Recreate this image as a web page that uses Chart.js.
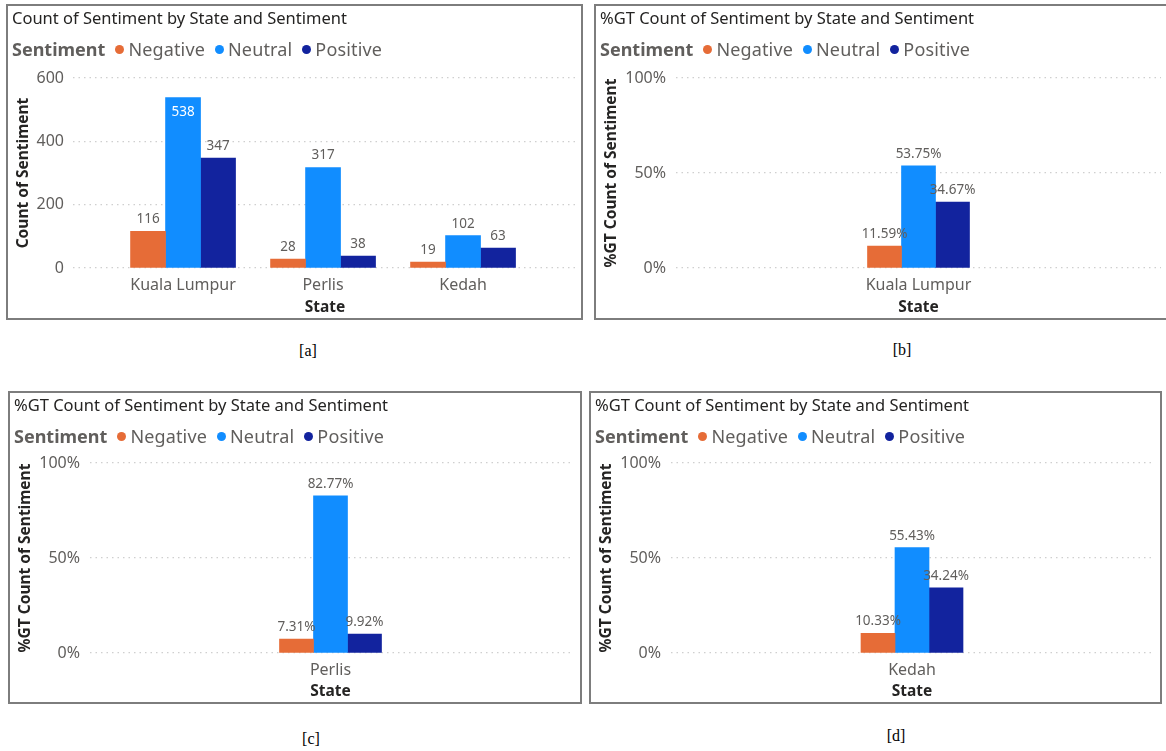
<!DOCTYPE html>
<html>
<head>
<meta charset="utf-8">
<title>Sentiment by State</title>
<script src="https://cdn.jsdelivr.net/npm/chart.js@4.4.0/dist/chart.umd.min.js"></script>
<style>
  body { margin: 0; width: 1166px; height: 751px; background: #fff; position: relative; overflow: hidden; }
  .panel { position: absolute; border: 2px solid #7d7d7d; box-sizing: border-box; background: #fff; }
  .panel canvas { position: absolute; left: 0; top: 0; }
  .ttl { position: absolute; left: 4px; top: 2px; font: 400 16.5px "Noto Sans", sans-serif; color: #252423; white-space: nowrap; line-height: 20px; }
  .lgd { position: absolute; left: 4px; top: 31px; font: 18px "Noto Sans", sans-serif; color: #605E5C; white-space: nowrap; line-height: 24px; letter-spacing: 0.15px; }
  .lgd b { font: 700 18px "Noto Sans", sans-serif; margin-right: 10px; letter-spacing: 0; }
  .lgd i { display: inline-block; width: 9px; height: 9px; border-radius: 50%; margin: 0 4px 2px 10px; }
  .lgd b + i { margin-left: 0; }
  .cap { position: absolute; font: 16px "Liberation Serif", serif; color: #000; transform: translate(-50%, -50%); }
</style>
</head>
<body>
<script>
// sentiment series
const sentiments = ['Negative', 'Neutral', 'Positive'];
const sentimentColors = ['#E66C37', '#118DFF', '#12239E'];

// counts per state
const states = ['Kuala Lumpur', 'Perlis', 'Kedah'];
const negativeCount = [116, 28, 19];
const neutralCount = [538, 317, 102];
const positiveCount = [347, 38, 63];
const countTicks = [0, 200, 400, 600];

// %GT of the count, one state per chart (Negative, Neutral, Positive)
const pctKualaLumpur = [11.59, 53.75, 34.67];
const pctPerlis = [7.31, 82.77, 9.92];
const pctKedah = [10.33, 55.43, 34.24];
const pctTicks = [0, 50, 100];

const grey = '#605E5C';
const dark = '#252423';

// draws the value above each bar (inside, in white, when there is no room)
const valueLabels = {
  id: 'valueLabels',
  afterDatasetsDraw(chart, args, opts) {
    const { ctx, chartArea } = chart;
    ctx.save();
    ctx.font = '13.5px "Noto Sans"';
    ctx.textAlign = 'center';
    ctx.textBaseline = 'middle';
    chart.data.datasets.forEach((ds, di) => {
      chart.getDatasetMeta(di).data.forEach((bar, i) => {
        let y = bar.y - 12;
        ctx.fillStyle = grey;
        if (y - 8 < chartArea.top) { y = bar.y + 15; ctx.fillStyle = '#fff'; }
        ctx.fillText(opts.format(ds.data[i].y), bar.x, y);
      });
    });
    ctx.restore();
  }
};

function addPanel(p) {
  const box = document.createElement('div');
  box.className = 'panel';
  Object.assign(box.style, { left: p.box[0] + 'px', top: p.box[1] + 'px', width: p.box[2] + 'px', height: p.box[3] + 'px' });
  const canvas = document.createElement('canvas');
  canvas.width = p.box[2] - 4; canvas.height = p.box[3] - 4;
  box.appendChild(canvas);

  const ttl = document.createElement('div');
  ttl.className = 'ttl';
  ttl.textContent = p.title;
  box.appendChild(ttl);

  const lgd = document.createElement('div');
  lgd.className = 'lgd';
  lgd.innerHTML = '<b>Sentiment</b>' + sentiments.map((s, i) =>
    '<i style="background:' + sentimentColors[i] + '"></i>' + s).join('');
  box.appendChild(lgd);
  document.body.appendChild(box);

  const cap = document.createElement('div');
  cap.className = 'cap';
  cap.textContent = p.caption[0];
  cap.style.left = p.caption[1] + 'px'; cap.style.top = p.caption[2] + 'px';
  document.body.appendChild(cap);

  new Chart(canvas, {
    type: 'bar',
    data: {
      datasets: p.series.map((vals, i) => ({
        label: sentiments[i],
        data: vals.map((v, k) => ({ x: k, y: v })),
        backgroundColor: sentimentColors[i]
      }))
    },
    plugins: [valueLabels],
    options: {
      responsive: false, animation: false,
      layout: { padding: { top: p.padTop, right: p.padRight, left: 0, bottom: 0 } },
      datasets: { bar: { barThickness: p.barW, borderWidth: 0 } },
      plugins: {
        legend: { display: false }, tooltip: { enabled: false },
        valueLabels: { format: p.fmt }
      },
      scales: {
        x: {
          type: 'linear', offset: false, min: p.xRange[0], max: p.xRange[1],
          afterBuildTicks: s => { s.ticks = p.labels.map((_, i) => ({ value: i })); },
          afterFit: s => { s.height = p.xAxisH; },
          grid: { display: false }, border: { display: false },
          ticks: { callback: v => p.labels[v], color: grey, font: { family: 'Noto Sans', size: 16 }, padding: 0, maxRotation: 0, autoSkip: false },
          title: { display: true, text: 'State', color: dark, font: { family: 'Noto Sans', size: 15.5, weight: 'bold' }, padding: { top: 0, bottom: 1 } }
        },
        y: {
          min: 0, max: p.yTicks[p.yTicks.length - 1],
          afterBuildTicks: s => { s.ticks = p.yTicks.map(v => ({ value: v })); },
          afterFit: s => { s.width = p.yAxisW; },
          grid: { color: '#cfcfcf', drawTicks: false, lineWidth: 1.2 },
          border: { display: false, dash: [1.5, 4] },
          ticks: { callback: p.tick, color: grey, font: { family: 'Noto Sans', size: 16 }, padding: p.tickPad },
          title: { display: true, text: p.yTitle, color: dark, font: { family: 'Noto Sans', size: 15.5, weight: 'bold' }, padding: { top: 6, bottom: 0 } }
        }
      }
    }
  });
}

const pctFmt = v => v.toFixed(2) + '%';
const pctTick = v => v + '%';
const pctTitle = '%GT Count of Sentiment by State and Sentiment';

addPanel({
  box: [6, 4, 577, 316], caption: ['[a]', 308, 351],
  title: 'Count of Sentiment by State and Sentiment', yTitle: 'Count of Sentiment',
  labels: states, series: [negativeCount, neutralCount, positiveCount],
  yTicks: countTicks, tick: v => v, fmt: v => String(v),
  yAxisW: 65, tickPad: 9, padTop: 72, padRight: 4, xAxisH: 50, xRange: [-0.786, 2.814], barW: 35
});
addPanel({
  box: [594, 4, 580, 316], caption: ['[b]', 902, 350],
  title: pctTitle, yTitle: '%GT Count of Sentiment',
  labels: [states[0]], series: pctKualaLumpur.map(v => [v]),
  yTicks: pctTicks, tick: pctTick, fmt: pctFmt,
  yAxisW: 80, tickPad: 10, padTop: 72, padRight: 11, xAxisH: 50, xRange: [-0.5, 0.5], barW: 34
});
addPanel({
  box: [8, 391, 574, 313], caption: ['[c]', 311, 739],
  title: pctTitle, yTitle: '%GT Count of Sentiment',
  labels: [states[1]], series: pctPerlis.map(v => [v]),
  yTicks: pctTicks, tick: pctTick, fmt: pctFmt,
  yAxisW: 80, tickPad: 10, padTop: 70, padRight: 9, xAxisH: 49, xRange: [-0.5, 0.5], barW: 34
});
addPanel({
  box: [589, 391, 573, 313], caption: ['[d]', 896, 736],
  title: pctTitle, yTitle: '%GT Count of Sentiment',
  labels: [states[2]], series: pctKedah.map(v => [v]),
  yTicks: pctTicks, tick: pctTick, fmt: pctFmt,
  yAxisW: 80, tickPad: 10, padTop: 70, padRight: 7, xAxisH: 49, xRange: [-0.5, 0.5], barW: 34
});
</script>
</body>
</html>
